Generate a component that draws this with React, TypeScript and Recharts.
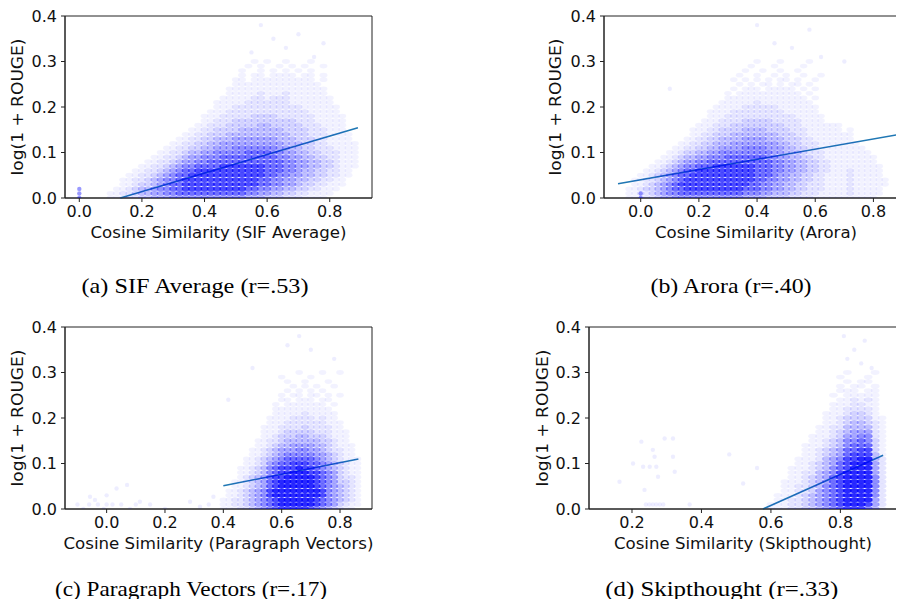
import React from 'react';
import { ScatterChart, Scatter, XAxis, YAxis, ReferenceLine, ReferenceArea } from 'recharts';

// ---------- data ----------
const yTicks = [0, 0.1, 0.2, 0.3, 0.4];
const sifTicks = [0, 0.2, 0.4, 0.6, 0.8];
const aroraTicks = [0, 0.2, 0.4, 0.6, 0.8];
const pvTicks = [0, 0.2, 0.4, 0.6, 0.8];
const stTicks = [0.2, 0.4, 0.6, 0.8];

const xLabels = [
  'Cosine Similarity (SIF Average)',
  'Cosine Similarity (Arora)',
  'Cosine Similarity (Paragraph Vectors)',
  'Cosine Similarity (Skipthought)',
];
const yLabel = 'log(1 + ROUGE)';
const captions = [
  '(a) SIF Average (r=.53)',
  '(b) Arora (r=.40)',
  '(c) Paragraph Vectors (r=.17)',
  '(d) Skipthought (r=.33)',
];

// Point density read off each cloud: row k is log(1+ROUGE) = k/100,
// character i is the cosine similarity x0 + i*dx, digit = density (0-9).
const sifGridX0 = 0.1;
const sifGridDx = 0.02;
const sifGrid = [
  '1112233444 5555555555 5544433322 2111100000',
  '1122344556 6777777777 7766554433 2211110000',
  '0112344566 7788888888 8877665544 3322111000',
  '0011233456 7788888888 8888776655 4332211100',
  '0011223456 6788888888 8888776655 4433221100',
  '0001122345 6778888888 8888877665 5443322110',
  '0000112234 5677888888 8888877766 5443322110',
  '0000011223 4566777788 8888877766 5544332111',
  '0000001122 3455667777 7777777766 5544332111',
  '0000000112 2345566677 7777777665 5443322111',
  '0000000011 2234455666 6677776655 4433222111',
  '0000000001 1223344555 6666666554 4332221111',
  '0000000000 1122334455 5555555544 4332211111',
  '0000000000 0112233444 5555555444 3332211110',
  '0000000000 0011223334 4444444443 3322211110',
  '0000000000 0001122333 3444444433 3322211100',
  '0000000000 0000112223 3333443333 3222111100',
  '0000000000 0000011222 3333333333 2221111100',
  '0000000000 0000011122 2223333222 2221111100',
  '0000000000 0000001112 2222222222 2211111000',
  '0000000000 0000000111 2222222222 2111111000',
  '0000000000 0000000111 1122222221 1111110000',
  '0000000000 0000000011 1112212221 1111110000',
  '0000000000 0000000001 1111211121 1111100000',
  '0000000000 0000000001 1111111111 1111100000',
  '0000000000 0000000000 1111111111 1111000000',
  '0000000000 0000000000 1101111111 1110100000',
  '0000000000 0000000000 0101101111 0110100000',
  '0000000000 0000000000 0100101010 1010000000',
  '0000000000 0000000000 0010100101 0100100000',
  '0000000000 0000000000 0001010010 0010000000',
];
const sifSparse = [
  [0.58, 0.38], [0.7, 0.36], [0.66, 0.33], [0.78, 0.34], [0.55, 0.32], [0.75, 0.31], [0.62, 0.35],
];
const sifZero = [[0, 0], [0, 0.01], [0, 0.02]];
const sifFit = [[0.131, 0], [0.89, 0.1545]];

const aroraGridX0 = -0.08;
const aroraGridDx = 0.02;
const aroraGrid = [
  '0011122344 5555555555 5544443333 2222111111 11111000',
  '0011223456 6777777777 7766655444 3322211111 21111100',
  '0011233456 7788888888 8877766554 4332221111 21111100',
  '0001123456 7888888888 8887766554 4332221111 21111110',
  '0001122345 6788888888 8888776655 4433221111 21111110',
  '0000112345 6778888888 8888777655 4433221111 21111100',
  '0000011234 5677888888 8888777665 5443322111 21111100',
  '0000001123 4566777888 8888777665 5443322111 11111100',
  '0000000112 3455667777 7777777665 5443322111 11111000',
  '0000000011 2344556667 7777776655 4433221111 11111000',
  '0000000001 1233445566 6666666554 4432221111 11110000',
  '0000000000 1122334455 5566665554 4332211111 11100000',
  '0000000000 0112233444 5555555544 3322211111 11000000',
  '0000000000 0011223344 4455554443 3322111111 10000000',
  '0000000000 0001122333 4444444433 3221111111 10000000',
  '0000000000 0001112233 3344443333 2221111110 10000000',
  '0000000000 0000111222 3333333332 2211111110 00000000',
  '0000000000 0000011122 2233333222 2211110000 00000000',
  '0000000000 0000001112 2222222222 2111110000 00000000',
  '0000000000 0000001111 2222222221 1111100000 00000000',
  '0000000000 0000000111 1122222211 1111100000 00000000',
  '0000000000 0000000011 1111211111 1111000000 00000000',
  '0000000000 0000000001 1111111111 1110100000 00000000',
  '0000000000 0000000001 0111111111 1101000000 00000000',
  '0000000000 0000000000 1011101111 1010100000 00000000',
  '0000000000 0000000000 0101011010 1101000000 00000000',
  '0000000000 0000000000 1010101011 0100100000 00000000',
  '0000000000 0000000000 0100100101 0010010000 00000000',
  '0000000000 0000000000 0010010010 0100000000 00000000',
  '0000000000 0000000000 0001000100 0010000000 00000000',
  '0000000000 0000000000 0000100010 0001000000 00000000',
];
const aroraSparse = [
  [0.4, 0.38], [0.58, 0.37], [0.52, 0.33], [0.62, 0.31], [0.46, 0.34], [0.7, 0.3], [0.1, 0.24],
];
const aroraZero = [[0, 0], [0, 0.01]];
const aroraFit = [[-0.078, 0.0314], [0.882, 0.139]];

const pvGridX0 = 0.4;
const pvGridDx = 0.02;
const pvGrid = [
  '1112234567 8888876543 2110',
  '1122345678 9999998765 3211',
  '1122345678 9999998765 4321',
  '0112345689 9999999865 4321',
  '0112345689 9999999865 4321',
  '0011234578 9999998765 4321',
  '0011234578 9999998765 3321',
  '0001234578 8999998765 3221',
  '0001123467 8899988765 3211',
  '0001123467 8889887654 3211',
  '0000112356 7788877654 3211',
  '0000112345 6777776543 2111',
  '0000011234 5666665543 2110',
  '0000011234 5556655432 2110',
  '0000001123 4455554432 1110',
  '0000001122 3444444332 1100',
  '0000000112 3334433321 1100',
  '0000000111 2333332221 1100',
  '0000000111 2222322221 1000',
  '0000000011 1222222211 1000',
  '0000000011 1122221211 0000',
  '0000000001 1111211111 0000',
  '0000000001 1111111110 0000',
  '0000000001 0111111101 0000',
  '0000000000 1101110110 0000',
  '0000000000 1011011010 1000',
  '0000000000 0101010100 0000',
  '0000000000 0010101001 0000',
  '0000000000 0100100010 0000',
  '0000000000 1000010000 0000',
  '0000000000 0001000100 1000',
];
const pvSparse = [
  [0.62, 0.36], [0.66, 0.38], [0.7, 0.35], [0.78, 0.33], [0.5, 0.31], [0.417, 0.24],
  [-0.1, 0.01], [-0.08, 0.0], [-0.06, 0.01], [-0.057, 0.027], [-0.03, 0.01], [-0.01, 0.0],
  [0.0, 0.01], [0.02, 0.01], [0.034, 0.045], [0.05, 0.01], [0.07, 0.053], [0.08, 0.0],
  [0.1, 0.01], [0.114, 0.016], [0.149, 0.01], [0.2, 0.0], [0.286, 0.016], [0.32, 0.005],
  [0.366, 0.027], [0.35, 0.01], [0.0, 0.03], [-0.04, 0.02],
];
const pvFit = [[0.4, 0.051], [0.863, 0.11]];

const stGridX0 = 0.6;
const stGridDx = 0.02;
const stGrid = [
  '1112233456 7888641',
  '1112234567 8999852',
  '0112234567 8999952',
  '0111234567 8999962',
  '0011223567 8999962',
  '0011223467 8999962',
  '0011123457 8999962',
  '0001123457 8999962',
  '0001122456 8999952',
  '0001112346 7899952',
  '0000112345 7899952',
  '0000111245 6889942',
  '0000011234 5788841',
  '0000011234 5778831',
  '0000011123 4677731',
  '0000001123 4667631',
  '0000001112 3556621',
  '0000000112 3455521',
  '0000000112 2444421',
  '0000000011 2344321',
  '0000000011 2333311',
  '0000000011 1233210',
  '0000000001 1222210',
  '0000000001 1122110',
  '0000000000 1121210',
  '0000000001 0111110',
  '0000000000 1110110',
  '0000000000 1011010',
  '0000000000 0101100',
  '0000000000 1000100',
  '0000000000 0100010',
];
const stSparse = [
  [0.81, 0.38], [0.84, 0.35], [0.87, 0.37], [0.82, 0.33], [0.89, 0.31], [0.86, 0.32],
  [0.164, 0.06], [0.203, 0.1], [0.227, 0.148], [0.232, 0.093], [0.236, 0.042], [0.251, 0.093],
  [0.26, 0.13], [0.265, 0.115], [0.27, 0.093], [0.275, 0.071], [0.294, 0.155], [0.318, 0.155],
  [0.318, 0.115], [0.323, 0.082], [0.24, 0.01], [0.25, 0.01], [0.26, 0.01], [0.27, 0.01],
  [0.28, 0.01], [0.29, 0.01], [0.366, 0.01], [0.52, 0.056], [0.48, 0.12], [0.56, 0.09],
];
const stFit = [[0.577, 0], [0.923, 0.118]];

// ---------- helpers ----------
type Cell = { x: number; y: number; d: number };

function gridCells(rows: string[], x0: number, dx: number): Cell[] {
  const out: Cell[] = [];
  rows.forEach((row, k) => {
    row.replace(/ /g, '').split('').forEach((ch, i) => {
      const d = Number(ch);
      if (d > 0) out.push({ x: +(x0 + i * dx).toFixed(4), y: k / 100, d });
    });
  });
  return out;
}

function toPoints(list: number[][]) {
  return list.map(([x, y]) => ({ x, y }));
}

const ALPHA = [0, 0.05, 0.1, 0.17, 0.25, 0.34, 0.44, 0.56, 0.7, 0.84];

const fmt = (v: number) => v.toFixed(1);
const tickStyle = { fontSize: 16, fill: '#111', fontFamily: 'DejaVu Sans' };

type PanelProps = {
  left: number;
  top: number;
  width: number;
  yAxisWidth: number;
  rightMargin: number;
  domain: [number, number];
  ticks: number[];
  cells: Cell[];
  sparse: { x: number; y: number }[];
  zero: { x: number; y: number }[];
  fit: number[][];
  rx: number;
};

function Panel(p: PanelProps) {
  const cellShape = (s: any) => {
    const d = s?.payload?.d ?? s?.d ?? 1;
    return <ellipse cx={s.cx} cy={s.cy} rx={p.rx} ry={2.4} fill="#0000ff" fillOpacity={ALPHA[d]} />;
  };
  const sparseShape = (s: any) => <circle cx={s.cx} cy={s.cy} r={2.2} fill="#0000ff" fillOpacity={0.07} />;
  const zeroShape = (s: any) => <circle cx={s.cx} cy={s.cy} r={2.2} fill="#0000ff" fillOpacity={0.4} />;
  return (
    <div style={{ position: 'absolute', left: p.left, top: p.top }}>
      <ScatterChart width={p.width} height={250} margin={{ top: 16, right: p.rightMargin, bottom: 0, left: 0 }}>
        <XAxis
          type="number"
          dataKey="x"
          domain={p.domain}
          allowDataOverflow
          ticks={p.ticks}
          interval={0}
          tickFormatter={fmt}
          height={52}
          tickSize={4}
          tickMargin={4}
          tick={tickStyle}
          stroke="#222"
        />
        <YAxis
          type="number"
          dataKey="y"
          domain={[0, 0.4]}
          allowDataOverflow
          ticks={yTicks}
          interval={0}
          tickFormatter={fmt}
          width={p.yAxisWidth}
          tickSize={4}
          tickMargin={4}
          tick={tickStyle}
          stroke="#222"
        />
        <Scatter data={p.cells} shape={cellShape} isAnimationActive={false} />
        <Scatter data={p.sparse} shape={sparseShape} isAnimationActive={false} />
        <Scatter data={p.zero} shape={zeroShape} isAnimationActive={false} />
        <ReferenceLine
          segment={[{ x: p.fit[0][0], y: p.fit[0][1] }, { x: p.fit[1][0], y: p.fit[1][1] }]}
          stroke="#1f77b4"
          strokeWidth={1.6}
          ifOverflow="visible"
        />
        <ReferenceArea
          x1={p.domain[0]}
          x2={p.domain[1]}
          y1={0}
          y2={0.4}
          fill="none"
          fillOpacity={0}
          stroke="#222"
          strokeWidth={1}
          ifOverflow="visible"
        />
      </ScatterChart>
    </div>
  );
}

export default function App() {
  const axisFont = 'DejaVu Sans';
  const serif = '"Liberation Serif", "Times New Roman", serif';
  return (
    <div style={{ position: 'relative', margin: -8, width: 904, height: 607, overflow: 'hidden', background: '#fff' }}>
      <Panel
        left={0} top={0} width={460} yAxisWidth={65} rightMargin={88}
        domain={[-0.0457, 0.935]} ticks={sifTicks}
        cells={gridCells(sifGrid, sifGridX0, sifGridDx)}
        sparse={toPoints(sifSparse)} zero={toPoints(sifZero)} fit={sifFit} rx={4.0}
      />
      <Panel
        left={530} top={0} width={380} yAxisWidth={74} rightMargin={4}
        domain={[-0.1262, 0.912]} ticks={aroraTicks}
        cells={gridCells(aroraGrid, aroraGridX0, aroraGridDx)}
        sparse={toPoints(aroraSparse)} zero={toPoints(aroraZero)} fit={aroraFit} rx={3.8}
      />
      <Panel
        left={0} top={311} width={460} yAxisWidth={65} rightMargin={88}
        domain={[-0.1427, 0.9096]} ticks={pvTicks}
        cells={gridCells(pvGrid, pvGridX0, pvGridDx)}
        sparse={toPoints(pvSparse)} zero={[]} fit={pvFit} rx={3.8}
      />
      <Panel
        left={530} top={311} width={380} yAxisWidth={59} rightMargin={13}
        domain={[0.0762, 0.963]} ticks={stTicks}
        cells={gridCells(stGrid, stGridX0, stGridDx)}
        sparse={toPoints(stSparse)} zero={[]} fit={stFit} rx={4.4}
      />
      <svg width={904} height={607} style={{ position: 'absolute', left: 0, top: 0, pointerEvents: 'none' }}>
        <g fontFamily={axisFont} fontSize={16} fill="#111">
          <text x={218.5} y={238} textAnchor="middle" textLength={256} lengthAdjust="spacingAndGlyphs">{xLabels[0]}</text>
          <text x={756} y={238} textAnchor="middle" textLength={202} lengthAdjust="spacingAndGlyphs">{xLabels[1]}</text>
          <text x={218.5} y={549} textAnchor="middle" textLength={310} lengthAdjust="spacingAndGlyphs">{xLabels[2]}</text>
          <text x={743} y={549} textAnchor="middle" textLength={258} lengthAdjust="spacingAndGlyphs">{xLabels[3]}</text>
          <text transform="translate(22.5,107) rotate(-90)" textAnchor="middle" textLength={137} lengthAdjust="spacingAndGlyphs">{yLabel}</text>
          <text transform="translate(560.8,107) rotate(-90)" textAnchor="middle" textLength={137} lengthAdjust="spacingAndGlyphs">{yLabel}</text>
          <text transform="translate(22.5,418) rotate(-90)" textAnchor="middle" textLength={137} lengthAdjust="spacingAndGlyphs">{yLabel}</text>
          <text transform="translate(547.5,418) rotate(-90)" textAnchor="middle" textLength={137} lengthAdjust="spacingAndGlyphs">{yLabel}</text>
        </g>
        <g fontFamily={serif} fontSize={21} fill="#000">
          <text x={195} y={292.5} textAnchor="middle" textLength={227} lengthAdjust="spacingAndGlyphs">{captions[0]}</text>
          <text x={731} y={292.5} textAnchor="middle" textLength={161} lengthAdjust="spacingAndGlyphs">{captions[1]}</text>
          <text x={191} y={596} textAnchor="middle" textLength={272} lengthAdjust="spacingAndGlyphs">{captions[2]}</text>
          <text x={721.7} y={596} textAnchor="middle" textLength={233} lengthAdjust="spacingAndGlyphs">{captions[3]}</text>
        </g>
      </svg>
    </div>
  );
}
